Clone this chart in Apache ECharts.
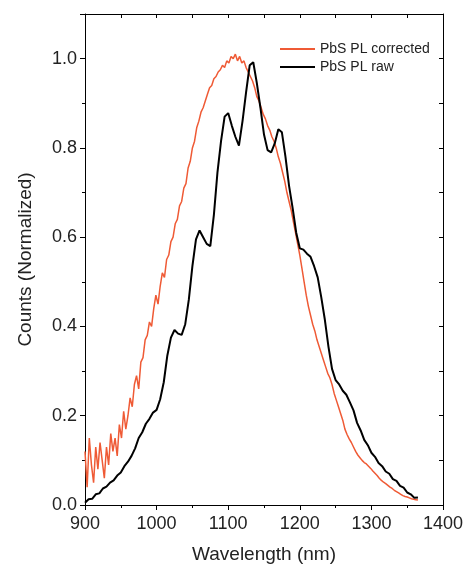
<!DOCTYPE html>
<html>
<head>
<meta charset="utf-8">
<script src="https://cdn.jsdelivr.net/npm/echarts@6/dist/echarts.min.js"></script>
<style>
  html, body { margin: 0; padding: 0; background: #fff; }
  #chart { width: 468px; height: 568px; }
</style>
</head>
<body>
<div id="chart"></div>
<script>
// PL spectra; wavelength grid in nm
const redStart = 900, redStep = 3;
const redValues = [
  0.12, 0.04, 0.15, 0.09, 0.05, 0.13, 0.08, 0.14, 0.10, 0.06,
  0.13, 0.09, 0.16, 0.12, 0.15, 0.11, 0.18, 0.15, 0.21, 0.17,
  0.20, 0.24, 0.22, 0.27, 0.29, 0.26, 0.32, 0.33, 0.37, 0.38,
  0.41, 0.40, 0.44, 0.47, 0.45, 0.49, 0.52, 0.51, 0.55, 0.56,
  0.59, 0.60, 0.63, 0.64, 0.67, 0.68, 0.71, 0.72, 0.755, 0.77,
  0.80, 0.815, 0.845, 0.86, 0.88, 0.89, 0.905, 0.92, 0.935, 0.94,
  0.955, 0.96, 0.97, 0.975, 0.985, 0.98, 0.995, 0.99, 1.005, 1.00,
  1.01, 0.995, 1.005, 0.99, 0.995, 0.98, 0.97, 0.96, 0.95, 0.935,
  0.915, 0.905, 0.89, 0.875, 0.865, 0.85, 0.84, 0.825, 0.815, 0.80,
  0.78, 0.765, 0.745, 0.725, 0.70, 0.68, 0.66, 0.635, 0.61, 0.585,
  0.56, 0.53, 0.50, 0.47, 0.445, 0.425, 0.405, 0.39, 0.37, 0.355,
  0.34, 0.325, 0.31, 0.295, 0.285, 0.27, 0.25, 0.235, 0.22, 0.205,
  0.19, 0.17, 0.158, 0.148, 0.14, 0.13, 0.12, 0.112, 0.106, 0.10,
  0.095, 0.092, 0.087, 0.082, 0.076, 0.071, 0.066, 0.06, 0.055, 0.051,
  0.048, 0.044, 0.04, 0.037, 0.033, 0.03, 0.027, 0.024, 0.021, 0.019,
  0.018, 0.016, 0.014, 0.013, 0.012, 0.011
];

const blackStart = 900, blackStep = 5;
const blackValues = [
  0.005, 0.013, 0.014, 0.024, 0.026, 0.037, 0.041, 0.05, 0.055, 0.066,
  0.073, 0.087, 0.097, 0.11, 0.127, 0.15, 0.163, 0.182, 0.193, 0.207,
  0.213, 0.237, 0.275, 0.335, 0.375, 0.392, 0.384, 0.381, 0.405, 0.46,
  0.535, 0.595, 0.615, 0.60, 0.585, 0.58, 0.65, 0.745, 0.815, 0.87,
  0.878, 0.85, 0.825, 0.805, 0.86, 0.925, 0.985, 0.992, 0.945, 0.89,
  0.83, 0.795, 0.79, 0.81, 0.842, 0.835, 0.78, 0.715, 0.665, 0.61,
  0.575, 0.572, 0.563, 0.556, 0.535, 0.51, 0.465, 0.415, 0.355, 0.305,
  0.28, 0.27, 0.256, 0.247, 0.23, 0.212, 0.184, 0.167, 0.146, 0.134,
  0.117, 0.108, 0.094, 0.087, 0.075, 0.07, 0.058, 0.054, 0.043, 0.039,
  0.028, 0.024, 0.016, 0.017
];

const seriesNames = ["PbS PL corrected", "PbS PL raw"];
const xTicks = [900, 1000, 1100, 1200, 1300, 1400];

function pairs(start, step, values) {
  return values.map((v, i) => [start + i * step, v]);
}

const font = "Liberation Sans, Arial, sans-serif";
const ink = "#000";

const chart = echarts.init(document.getElementById("chart"));
chart.setOption({
  animation: false,
  backgroundColor: "#fff",
  grid: { left: 85, right: 25, top: 14, bottom: 63, outerBoundsMode: "none" },
  legend: {
    orient: "vertical",
    left: 275,
    top: 36,
    icon: "rect",
    itemWidth: 35,
    itemHeight: 2,
    itemGap: 2,
    data: seriesNames,
    textStyle: { fontFamily: font, fontSize: 14, color: "#222", lineHeight: 16 },
  },
  xAxis: [
    {
      type: "value",
      min: xTicks[0],
      max: xTicks[xTicks.length - 1],
      interval: 100,
      name: "Wavelength (nm)",
      nameLocation: "middle",
      nameGap: 40,
      nameTextStyle: { fontFamily: font, fontSize: 19, color: "#222" },
      axisLine: { show: true, onZero: false, lineStyle: { color: ink, width: 1 } },
      axisTick: { show: true, inside: false, length: 5, lineStyle: { color: ink } },
      minorTick: { show: true, splitNumber: 2, length: 3, lineStyle: { color: ink } },
      axisLabel: { fontFamily: font, fontSize: 18, color: "#222", margin: 10, formatter: (v) => String(v) },
      splitLine: { show: false },
    },
    {
      type: "value",
      position: "top",
      min: xTicks[0],
      max: xTicks[xTicks.length - 1],
      interval: 100,
      axisLine: { show: true, onZero: false, lineStyle: { color: ink, width: 1 } },
      axisTick: { show: true, inside: true, length: 4, lineStyle: { color: ink } },
      minorTick: { show: true, splitNumber: 2, length: 4, lineStyle: { color: ink } },
      axisLabel: { show: false },
      splitLine: { show: false },
    },
  ],
  yAxis: [
    {
      type: "value",
      min: 0,
      max: 1.1,
      interval: 0.2,
      name: "Counts (Normalized)",
      nameLocation: "middle",
      nameGap: 50,
      nameTextStyle: { fontFamily: font, fontSize: 19, color: "#222" },
      axisLine: { show: true, onZero: false, lineStyle: { color: ink, width: 1 } },
      axisTick: { show: true, inside: false, length: 5, lineStyle: { color: ink } },
      minorTick: { show: true, splitNumber: 2, length: 3, lineStyle: { color: ink } },
      axisLabel: {
        fontFamily: font, fontSize: 18, color: "#222", margin: 8,
        formatter: (v) => (Math.abs(v * 10 % 2) < 1e-6 ? v.toFixed(1) : ""),
      },
      splitLine: { show: false },
    },
    {
      type: "value",
      position: "right",
      min: 0,
      max: 1.1,
      interval: 0.2,
      axisLine: { show: true, onZero: false, lineStyle: { color: ink, width: 1 } },
      axisTick: { show: true, inside: true, length: 4, lineStyle: { color: ink } },
      minorTick: { show: true, splitNumber: 2, length: 4, lineStyle: { color: ink } },
      axisLabel: { show: false },
      splitLine: { show: false },
    },
  ],
  series: [
    {
      name: seriesNames[0],
      type: "line",
      showSymbol: false,
      data: pairs(redStart, redStep, redValues),
      color: "#ef5a35",
      lineStyle: { width: 1.5, color: "#ef5a35" },
    },
    {
      name: seriesNames[1],
      type: "line",
      showSymbol: false,
      data: pairs(blackStart, blackStep, blackValues),
      color: "#000",
      lineStyle: { width: 2, color: "#000" },
    },
  ],
});
</script>
</body>
</html>
